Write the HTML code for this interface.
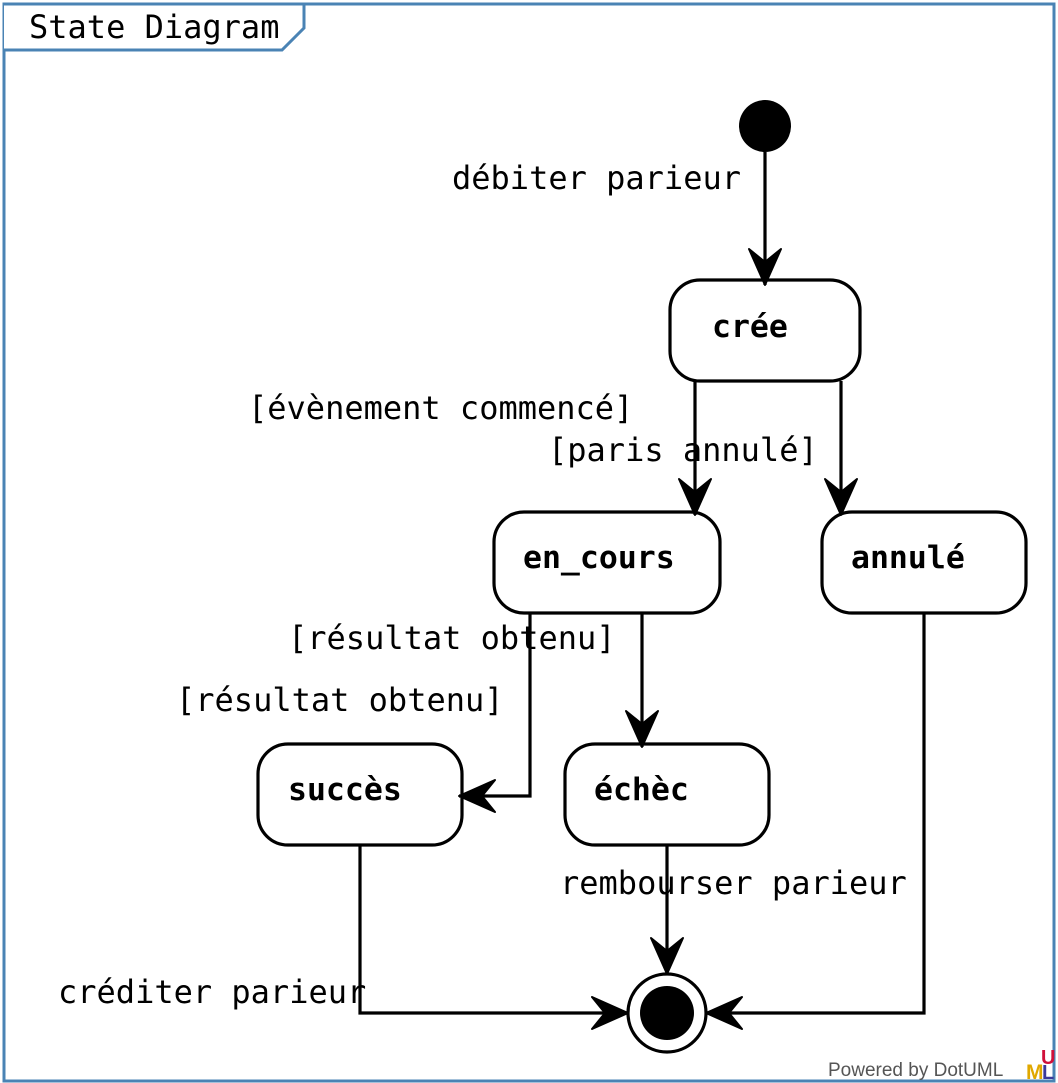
<!DOCTYPE html>
<html><head><meta charset="utf-8"><style>
html,body{margin:0;padding:0;background:#fff}
svg{display:block}
text{font-family:"DejaVu Sans Mono","Liberation Mono",monospace;font-size:32px;fill:#000}
.b{font-weight:bold;font-size:31.5px}
</style></head><body>
<svg width="1058" height="1083" viewBox="0 0 1058 1083" xmlns="http://www.w3.org/2000/svg">
<defs>
<marker id="a" markerUnits="userSpaceOnUse" markerWidth="44" markerHeight="36" refX="38" refY="17" orient="auto">
<path d="M38,17 L2,1 L15,17 L2,33 Z" fill="#000" stroke="#000" stroke-width="2" stroke-linejoin="round"/>
</marker>
</defs>
<rect x="4" y="4" width="1050" height="1077" fill="#fff" stroke="#4a83b4" stroke-width="3"/>
<path d="M4,4 L304,4 L304,28 L282,50 L4,50" fill="#fff" stroke="#4a83b4" stroke-width="3"/>
<text x="29" y="38" style="font-size:32px">State Diagram</text>

<g fill="none" stroke="#000" stroke-width="3.2">
<rect x="670" y="280" width="190" height="101" rx="30"/>
<rect x="494" y="512" width="226" height="101" rx="30"/>
<rect x="822" y="512" width="204" height="101" rx="30"/>
<rect x="258" y="744" width="204" height="101" rx="30"/>
<rect x="565" y="744" width="204" height="101" rx="30"/>
<circle cx="667" cy="1013" r="39"/>
<path d="M765,152 L765,285" marker-end="url(#a)"/>
<path d="M695,381 L695,515" marker-end="url(#a)"/>
<path d="M841,381 L841,515" marker-end="url(#a)"/>
<path d="M530,613 L530,796 L459,796" marker-end="url(#a)"/>
<path d="M642,613 L642,747" marker-end="url(#a)"/>
<path d="M667,845 L667,974" marker-end="url(#a)"/>
<path d="M360,845 L360,1013 L628,1013" marker-end="url(#a)"/>
<path d="M924,613 L924,1013 L706,1013" marker-end="url(#a)"/>
</g>
<circle cx="765" cy="126" r="26" fill="#000"/>
<circle cx="667" cy="1013" r="27" fill="#000"/>

<text x="452" y="189">débiter parieur</text>
<text x="248" y="419">[évènement commencé]</text>
<text x="548" y="461">[paris annulé]</text>
<text x="288" y="649">[résultat obtenu]</text>
<text x="176" y="711">[résultat obtenu]</text>
<text x="560" y="894">rembourser parieur</text>
<text x="58" y="1003">créditer parieur</text>

<text class="b" x="712" y="337">crée</text>
<text class="b" x="523" y="568">en_cours</text>
<text class="b" x="851" y="568">annulé</text>
<text class="b" x="288" y="800">succès</text>
<text class="b" x="594" y="800">échèc</text>

<text x="828" y="1076" style="font-family:'Liberation Sans',sans-serif;font-size:19px;fill:#555">Powered by DotUML</text>
<text x="1026" y="1079" style="font-family:'Liberation Sans',sans-serif;font-size:21px;font-weight:bold;fill:#e0a800">M</text>
<text x="1041" y="1064" style="font-family:'Liberation Sans',sans-serif;font-size:20px;font-weight:bold;fill:#d0103a">U</text>
<text x="1042" y="1079" style="font-family:'Liberation Sans',sans-serif;font-size:20px;font-weight:bold;fill:#3a3a9a">L</text>
</svg>
</body></html>
